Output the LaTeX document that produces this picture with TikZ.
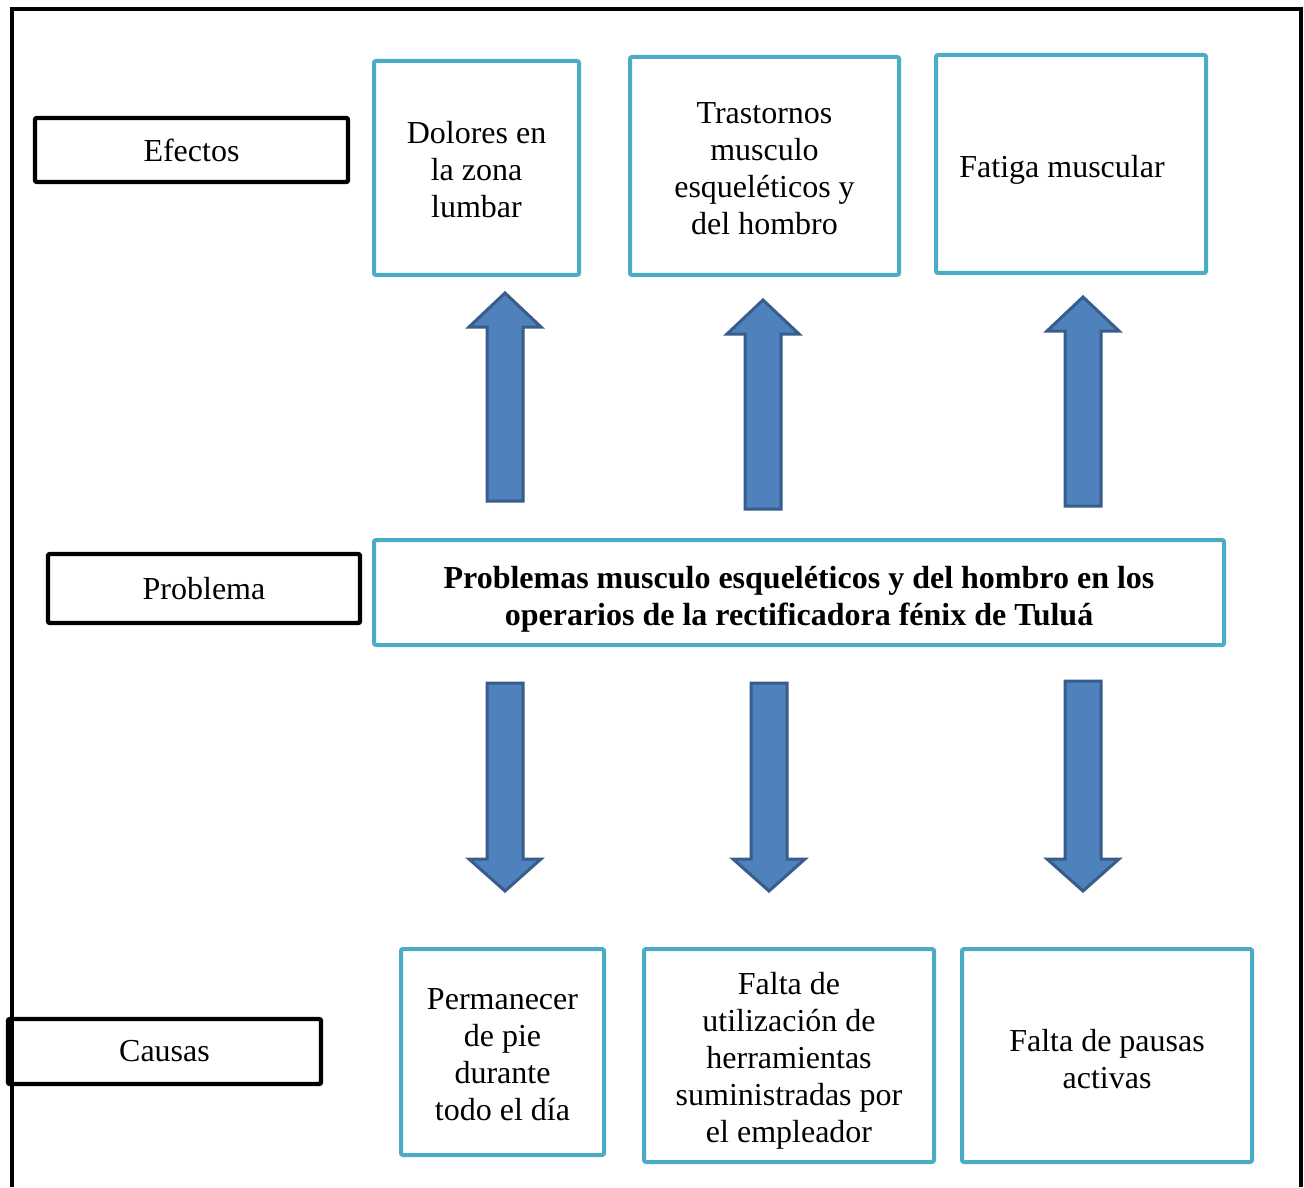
\documentclass[tikz,border=0pt]{standalone}
\usepackage{fontspec}
\setmainfont{Liberation Serif}
\definecolor{tealb}{HTML}{4BACC6}
\definecolor{arrfill}{HTML}{4F81BD}
\definecolor{arrline}{HTML}{385D8A}
\newcommand{\blockup}[4]{% cx, tip, head base, bottom
  \draw[blockarr] (#1-18,#4) -- (#1-18,#3) -- (#1-36,#3) -- (#1,#2) -- (#1+36,#3) -- (#1+18,#3) -- (#1+18,#4) -- cycle;}
\newcommand{\blockdown}[4]{% cx, top, head base, tip
  \draw[blockarr] (#1-18,#2) -- (#1-18,#3) -- (#1-36,#3) -- (#1,#4) -- (#1+36,#3) -- (#1+18,#3) -- (#1+18,#2) -- cycle;}
\begin{document}
\begin{tikzpicture}[x=0.5pt,y=-0.5pt,
  every node/.style={font=\fontsize{16}{18.5}\selectfont},
  labelbox/.style={draw=black, line width=2.2pt, rounded corners=1pt, inner sep=0pt, align=center},
  tealbox/.style={draw=tealb, line width=2pt, rounded corners=1pt, inner sep=0pt},
  boxtext/.style={align=center, inner sep=0pt},
  blockarr/.style={fill=arrfill, draw=arrline, line width=1.5pt, line join=miter}]
\useasboundingbox (0,0) rectangle (1304,1187);
\fill[white] (0,0) rectangle (1304,1187);
% outer frame
\draw[line width=2pt] (12,1187) -- (12,9) -- (1301,9) -- (1301,1187);
% labels
\node[labelbox, minimum width=156.5pt, minimum height=32pt] (efectos) at (191.5,150) {Efectos};
\node[labelbox, minimum width=156pt, minimum height=34.5pt] (problema) at (204,588.5) {Problema};
\node[labelbox, minimum width=156.5pt, minimum height=32.5pt] (causas) at (164.5,1051.5) {Causas};
% effects
\node[tealbox, minimum width=102.5pt, minimum height=107pt,
  label={[boxtext, yshift=-1pt]center:{Dolores en\\la zona\\lumbar}}] (e1) at (476.5,168) {};
\node[tealbox, minimum width=134.5pt, minimum height=109pt,
  label={[boxtext, yshift=-1.5pt]center:{Trastornos\\musculo\\esqueléticos y\\del hombro}}] (e2) at (764.5,166) {};
\node[tealbox, minimum width=135pt, minimum height=109pt,
  label={[boxtext, yshift=-3pt, xshift=-4.5pt]center:{Fatiga muscular}}] (e3) at (1071,164) {};
% problem
\node[tealbox, minimum width=425pt, minimum height=52.5pt,
  label={[boxtext, yshift=-3.5pt, font=\fontsize{16}{18.5}\selectfont\bfseries]center:{Problemas musculo esqueléticos y del hombro en los\\operarios de la rectificadora fénix de Tuluá}}] (p) at (799,592.5) {};
% causes
\node[tealbox, minimum width=101.5pt, minimum height=103pt,
  label={[boxtext, yshift=-1.5pt]center:{Permanecer\\de pie\\durante\\todo el día}}] (c1) at (502.5,1052) {};
\node[tealbox, minimum width=145pt, minimum height=106.5pt,
  label={[boxtext, yshift=-2.5pt]center:{Falta de\\utilización de\\herramientas\\suministradas por\\el empleador}}] (c2) at (789,1055.5) {};
\node[tealbox, minimum width=145pt, minimum height=106.5pt,
  label={[boxtext, yshift=-2pt]center:{Falta de pausas\\activas}}] (c3) at (1107,1055.5) {};
% arrows
\blockup{505}{293}{327}{501}
\blockup{763}{300}{334}{509}
\blockup{1083}{297}{331}{506}
\blockdown{505}{683}{859}{891}
\blockdown{769}{683}{859}{891}
\blockdown{1083}{681}{859}{891}
\end{tikzpicture}
\end{document}
